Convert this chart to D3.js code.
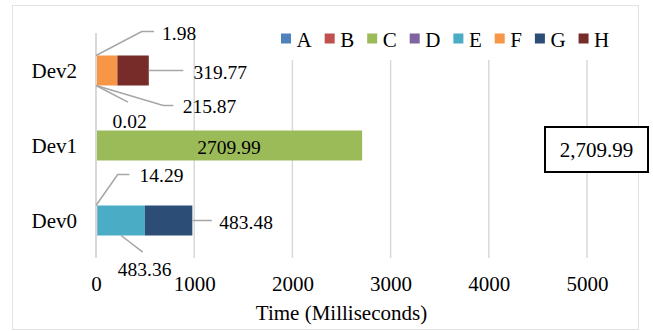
<!DOCTYPE html>
<html><head><meta charset="utf-8">
<script src="https://cdn.jsdelivr.net/npm/d3@7"></script>
<style>
html,body{margin:0;padding:0;background:#fff;}
</style></head>
<body><svg id="c" width="653" height="331" style="font-family:'Liberation Serif','Times New Roman',serif"></svg>
<script>
// ---- data ----
const devices = ["Dev2", "Dev1", "Dev0"];
const seriesNames = ["A", "B", "C", "D", "E", "F", "G", "H"];
const valA = [1.98, 0, 0];
const valB = [0.02, 0, 0];
const valC = [0, 2709.99, 0];
const valD = [0, 0, 14.29];
const valE = [0, 0, 483.36];
const valF = [215.87, 0, 0];
const valG = [0, 0, 483.48];
const valH = [319.77, 0, 0];
const xTicks = [0, 1000, 2000, 3000, 4000, 5000];
const xTitle = "Time (Milliseconds)";
const colors = ["#4F81BD", "#C0504D", "#9BBB59", "#8064A2", "#4BACC6", "#F79646", "#2C4D75", "#772C2A"];

const FONT = "'Liberation Serif','Times New Roman',serif";
const seriesVals = [valA, valB, valC, valD, valE, valF, valG, valH];
const rows = devices.map((d, i) => {
  const o = {device: d};
  seriesNames.forEach((s, k) => o[s] = seriesVals[k][i]);
  return o;
});

// ---- label placement (annotation layout, pixel offsets from anchor) ----
const labelLayout = {
  "Dev2|A": {anchor: "start-top", path: [[45.7, -24], [58, -24]], text: [66, -16]},
  "Dev2|B": {anchor: "start-bottom", path: [[32, 16.7]], text: [16.5, 42]},
  "Dev2|F": {anchor: "start-bottom", path: [[67.3, 20], [77.3, 20]], text: [86.7, 27.5]},
  "Dev2|H": {anchor: "end-mid", path: [[34.5, 0]], text: [44.7, 8]},
  "Dev1|C": {anchor: "inside"},
  "Dev0|D": {anchor: "start-top", path: [[21.7, -31], [33.3, -31]], text: [43.5, -23.5]},
  "Dev0|E": {anchor: "mid-bottom", path: [[21.6, 16.7]], text: [-3.3, 40]},
  "Dev0|G": {anchor: "end-mid", path: [[19.5, 0]], text: [27, 8]}
};

const svg = d3.select("#c");

// outer frame
svg.append("rect").attr("x", 12.5).attr("y", 5.5).attr("width", 626).attr("height", 324)
  .attr("fill", "#fff").attr("stroke", "#e3e3e3").attr("stroke-width", 1);

const x = d3.scaleLinear().domain([0, 5000]).range([96, 587]);
const y = d3.scaleBand().domain(devices).range([33, 258]).paddingInner(0.6).paddingOuter(0.3);

// gridlines (except 0, drawn above the bars as axis line)
svg.append("g").selectAll("line").data(xTicks.filter(d => d !== 0)).join("line")
  .attr("x1", d => x(d)).attr("x2", d => x(d))
  .attr("y1", 33).attr("y2", 258)
  .attr("stroke", "#d9d9d9").attr("stroke-width", 1.5);

// x axis labels via d3 axis
const xAxis = d3.axisBottom(x).tickValues(xTicks).tickFormat(d3.format("d")).tickSize(0).tickPadding(0);
const gx = svg.append("g").attr("transform", "translate(0,275)").call(xAxis);
gx.attr("font-family", FONT).attr("font-size", 21);
gx.select(".domain").remove();
gx.selectAll("text").attr("fill", "#000").attr("dy", "0.75em").attr("y", 0);

// y axis labels
const yAxis = d3.axisLeft(y).tickSize(0).tickPadding(19);
const gy = svg.append("g").attr("transform", "translate(96,0)").call(yAxis);
gy.attr("font-family", FONT).attr("font-size", 21);
gy.select(".domain").remove();
gy.selectAll("text").attr("fill", "#000").attr("dy", "0.36em");

// stacked bars
const stack = d3.stack().keys(seriesNames)(rows);
const barG = svg.append("g");
stack.forEach((layer, k) => {
  barG.append("g").attr("fill", colors[k]).selectAll("rect")
    .data(layer.filter(d => d[1] - d[0] > 0)).join("rect")
    .attr("x", d => x(d[0])).attr("width", d => x(d[1]) - x(d[0]))
    .attr("y", d => y(d.data.device)).attr("height", y.bandwidth());
});

// vertical axis line at 0 (on top of bars)
svg.append("line").attr("x1", x(0)).attr("x2", x(0)).attr("y1", 33).attr("y2", 258)
  .attr("stroke", "#d9d9d9").attr("stroke-width", 2);

// data labels with leaders
const lblG = svg.append("g").attr("font-family", FONT).attr("font-size", 19.5);
stack.forEach((layer, k) => {
  layer.forEach(d => {
    const v = d[1] - d[0];
    if (v <= 0) return;
    const key = d.data.device + "|" + seriesNames[k];
    const L = labelLayout[key];
    if (!L) return;
    const top = y(d.data.device), bot = top + y.bandwidth(), mid = top + y.bandwidth() / 2;
    const label = v.toFixed(2);
    if (L.anchor === "inside") {
      lblG.append("text").attr("x", (x(d[0]) + x(d[1])) / 2).attr("y", mid + 8)
        .attr("text-anchor", "middle").text(label);
      return;
    }
    let ax, ay;
    if (L.anchor === "start-top") { ax = x(0); ay = top; }
    else if (L.anchor === "start-bottom") { ax = x(0); ay = bot; }
    else if (L.anchor === "end-mid") { ax = x(d[1]); ay = mid; }
    else if (L.anchor === "mid-bottom") { ax = (x(d[0]) + x(d[1])) / 2; ay = bot; }
    const pts = [[ax, ay]].concat(L.path.map(p => [ax + p[0], ay + p[1]]));
    lblG.append("path").attr("d", d3.line()(pts)).attr("fill", "none")
      .attr("stroke", "#a6a6a6").attr("stroke-width", 1.5);
    lblG.append("text").attr("x", ax + L.text[0]).attr("y", ay + L.text[1]).text(label);
  });
});

// legend (white background covering gridlines)
svg.append("rect").attr("x", 272).attr("y", 18).attr("width", 356).attr("height", 42).attr("fill", "#fff");
const lg = svg.append("g").attr("font-family", FONT).attr("font-size", 21);
let lx = 281;
seriesNames.forEach((s, k) => {
  lg.append("rect").attr("x", lx).attr("y", 33.5).attr("width", 10).attr("height", 10).attr("fill", colors[k]);
  const t = lg.append("text").attr("x", lx + 15.5).attr("y", 47).text(s);
  lx += 15.5 + t.node().getComputedTextLength() + 13;
});

// total box
const totals = rows.map(r => d3.sum(seriesNames, s => r[s]));
const maxTotal = d3.max(totals);
svg.append("rect").attr("x", 545).attr("y", 127).attr("width", 103).attr("height", 45)
  .attr("fill", "#fff").attr("stroke", "#000").attr("stroke-width", 2);
svg.append("text").attr("x", 596.5).attr("y", 156.5).attr("text-anchor", "middle")
  .attr("font-family", FONT).attr("font-size", 21).text(d3.format(",.2f")(maxTotal));

// axis title
svg.append("text").attr("x", (x(0) + x(5000)) / 2).attr("y", 320).attr("text-anchor", "middle")
  .attr("font-family", FONT).attr("font-size", 21).text(xTitle);
</script></body></html>
